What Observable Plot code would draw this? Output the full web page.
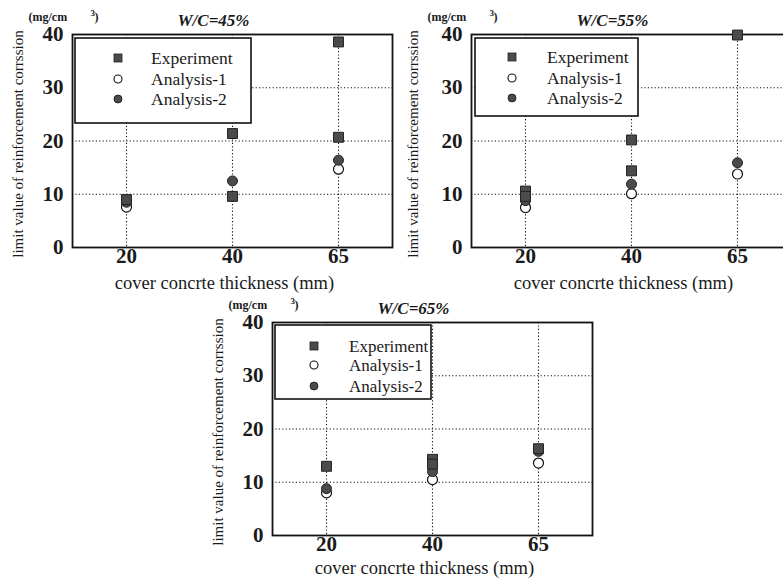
<!DOCTYPE html>
<html>
<head>
<meta charset="utf-8">
<script src="https://cdn.jsdelivr.net/npm/d3@7"></script>
<script src="https://cdn.jsdelivr.net/npm/@observablehq/plot@0.6"></script>
<style>
  html, body { margin: 0; padding: 0; background: #fff; overflow: hidden; }
  #wrap { position: relative; width: 783px; height: 578px; overflow: hidden; }
  #wrap svg { position: absolute; }
</style>
</head>
<body>
<div id="wrap"></div>
<script>
// ---- data ----
const thickness = ["20", "40", "65"];
const yTicks = [0, 10, 20, 30, 40];
const gridY = [10, 20, 30];
const seriesNames = ["Experiment", "Analysis-1", "Analysis-2"];

// W/C = 45%
const experiment45 = [["20", 9.0], ["40", 21.4], ["40", 9.6], ["65", 38.6], ["65", 20.7]];
const analysis1_45 = [["20", 7.6], ["40", 9.6], ["65", 14.7]];
const analysis2_45 = [["20", 8.5], ["40", 12.5], ["65", 16.4]];

// W/C = 55%
const experiment55 = [["20", 10.6], ["20", 9.6], ["40", 20.2], ["40", 14.4], ["65", 39.9]];
const analysis1_55 = [["20", 7.5], ["40", 10.1], ["65", 13.8]];
const analysis2_55 = [["20", 8.8], ["40", 11.9], ["65", 15.9]];

// W/C = 65%
const experiment65 = [["20", 13.0], ["40", 14.3], ["40", 13.4], ["65", 16.3]];
const analysis1_65 = [["20", 8.0], ["40", 10.5], ["65", 13.6]];
const analysis2_65 = [["20", 8.8], ["40", 12.0], ["65", 15.8]];

const titles = ["W/C=45%", "W/C=55%", "W/C=65%"];
const yLabel = "limit value of reinforcement corrssion";
const xLabel = "cover concrte thickness (mm)";
const unitLabel = "(mg/cm";
const unitSup = "3";
const unitClose = ")";

const FONT = "Liberation Serif";
const DARK = "#4b4b4b";
const INK = "#1a1a1a";

function panel({title, exp, a1, a2, left, top, yLabDx, xLabDy, legend}) {
  const W = 400, H = 290;
  const T = {fontFamily: FONT, fill: INK};
  const svg = Plot.plot({
    width: W, height: H,
    marginLeft: 72, marginRight: 8, marginTop: 34, marginBottom: 43,
    style: {fontFamily: FONT, background: "transparent", overflow: "visible"},
    x: {type: "point", domain: thickness, padding: 0.5, axis: null},
    y: {domain: [0, 40], axis: null},
    marks: [
      Plot.ruleX(thickness, {x: d => d, stroke: "#111", strokeWidth: 1.1, strokeDasharray: "1.2,2.2"}),
      Plot.ruleY(gridY, {y: d => d, stroke: "#111", strokeWidth: 1.1, strokeDasharray: "1.2,2.2"}),
      Plot.axisY(yTicks, {...T, tickSize: 0, tickPadding: 9, fontSize: 21, fontWeight: "bold", label: null}),
      Plot.axisX(thickness, {...T, tickSize: 0, tickPadding: 1, fontSize: 21, fontWeight: "bold", label: null}),
      Plot.frame({stroke: "#111", strokeWidth: 1.8}),
      Plot.text([yLabel], {...T, frameAnchor: "left", rotate: -90, dx: yLabDx, dy: 3, fontSize: 15, textAnchor: "middle", lineAnchor: "middle"}),
      Plot.text([xLabel], {...T, frameAnchor: "bottom", dx: -8, dy: xLabDy, fontSize: 18.5, textAnchor: "middle", lineAnchor: "middle"}),
      Plot.text([title], {...T, frameAnchor: "top", dx: -19, dy: -14, fontSize: 17, fontStyle: "italic", fontWeight: "bold", textAnchor: "middle", lineAnchor: "middle"}),
      Plot.text([unitLabel], {...T, frameAnchor: "top-left", dx: -44, dy: -17, fontSize: 12, fontWeight: "bold", textAnchor: "start", lineAnchor: "middle"}),
      Plot.text([unitSup], {...T, frameAnchor: "top-left", dx: 18, dy: -21, fontSize: 9, fontWeight: "bold", textAnchor: "start", lineAnchor: "middle"}),
      Plot.text([unitClose], {...T, frameAnchor: "top-left", dx: 22, dy: -17, fontSize: 12, fontWeight: "bold", textAnchor: "start", lineAnchor: "middle"}),
      Plot.dot(a1, {x: d => d[0], y: d => d[1], r: 5, fill: "white", stroke: "#111", strokeWidth: 1.2}),
      Plot.dot(a2, {x: d => d[0], y: d => d[1], r: 5, fill: DARK, stroke: "#222", strokeWidth: 1}),
      Plot.dot(exp, {x: d => d[0], y: d => d[1], symbol: "square", r: 5.6, fill: DARK, stroke: "#222", strokeWidth: 1})
    ]
  });
  svg.style.left = left + "px";
  svg.style.top = top + "px";

  // legend box (inside frame, top-left)
  const g = d3.select(svg).append("g")
    .attr("font-family", FONT).attr("text-anchor", "start");
  const lx = 72 + legend.ox, ly = 34 + legend.oy;
  g.append("rect").attr("x", lx).attr("y", ly).attr("width", legend.w).attr("height", legend.h)
    .attr("fill", "white").attr("stroke", "#111").attr("stroke-width", 1.6);
  seriesNames.forEach((name, i) => {
    const cy = ly + legend.rows[i];
    const sx = lx + legend.sym;
    if (i === 0) {
      g.append("rect").attr("x", sx - 4).attr("y", cy - 4).attr("width", 8).attr("height", 8)
        .attr("fill", DARK).attr("stroke", "#222").attr("stroke-width", 0.8);
    } else {
      g.append("circle").attr("cx", sx).attr("cy", cy).attr("r", 4)
        .attr("fill", i === 1 ? "white" : DARK).attr("stroke", "#111").attr("stroke-width", i === 1 ? 1.1 : 0.8);
    }
    g.append("text").attr("x", lx + legend.txt).attr("y", cy).attr("dy", "0.35em")
      .attr("text-anchor", "start")
      .attr("font-size", legend.fs).attr("fill", INK).text(name);
  });
  document.getElementById("wrap").appendChild(svg);
}

panel({title: titles[0], exp: experiment45, a1: analysis1_45, a2: analysis2_45, left: 0, top: 0,
  yLabDx: -54, xLabDy: 36,
  legend: {ox: 3, oy: 4, w: 176, h: 85, sym: 43, txt: 76, rows: [20, 41, 61], fs: 17.5}});
panel({title: titles[1], exp: experiment55, a1: analysis1_55, a2: analysis2_55, left: 399, top: 0,
  yLabDx: -58, xLabDy: 36,
  legend: {ox: 4, oy: 4, w: 163, h: 78, sym: 37, txt: 72, rows: [19, 40, 60], fs: 17.5}});
panel({title: titles[2], exp: experiment65, a1: analysis1_65, a2: analysis2_65, left: 200, top: 288,
  yLabDx: -54, xLabDy: 33,
  legend: {ox: 3, oy: 3, w: 156, h: 74, sym: 39, txt: 74, rows: [21, 40, 61], fs: 17}});
</script>
</body>
</html>
